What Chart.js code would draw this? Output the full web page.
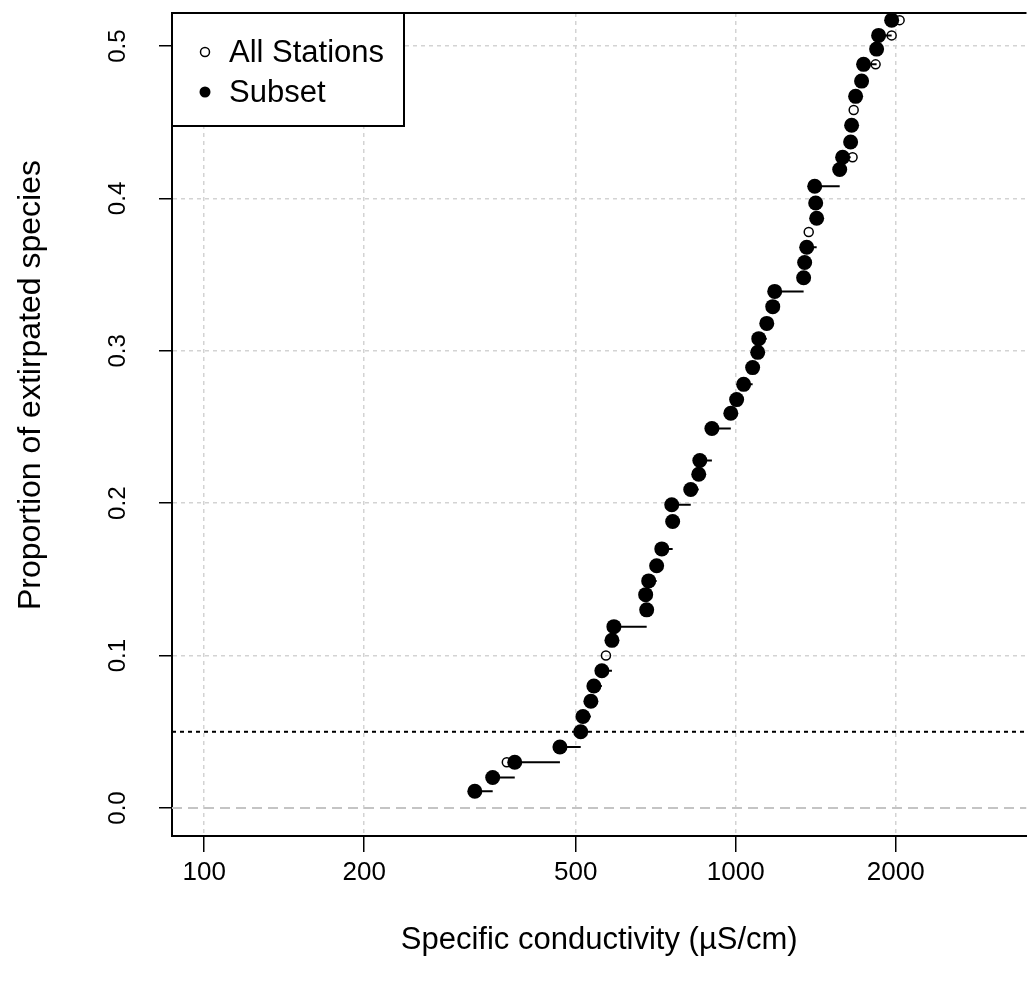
<!DOCTYPE html>
<html>
<head>
<meta charset="utf-8">
<script src="https://cdn.jsdelivr.net/npm/chart.js@4.4.1/dist/chart.umd.min.js"></script>
<style>
html, body { margin: 0; padding: 0; background: #fff; overflow: hidden; }
#wrap { width: 1027px; height: 989px; overflow: hidden; }
</style>
</head>
<body>
<div id="wrap"><canvas id="myChart" width="1034" height="989"></canvas></div>
<script>
// subset of stations (filled dots)
const subsetX = [323, 349, 384, 467, 511, 516, 534, 541, 560, 585, 590, 680, 677, 686, 710, 726, 761, 758, 823, 852, 856, 902, 979, 1004, 1035, 1076, 1100, 1105, 1144, 1174, 1184, 1342, 1348, 1360, 1420, 1414, 1408, 1569, 1589, 1645, 1652, 1681, 1725, 1740, 1841, 1857, 1965];
const subsetY = [0.011, 0.020, 0.030, 0.040, 0.050, 0.060, 0.070, 0.080, 0.090, 0.110, 0.119, 0.130, 0.140, 0.149, 0.159, 0.170, 0.188, 0.199, 0.209, 0.219, 0.228, 0.249, 0.259, 0.268, 0.278, 0.289, 0.299, 0.308, 0.318, 0.329, 0.339, 0.348, 0.358, 0.368, 0.387, 0.397, 0.408, 0.419, 0.427, 0.437, 0.448, 0.467, 0.477, 0.488, 0.498, 0.507, 0.517];

// all stations (open circles)
const allX = [323, 349, 371, 467, 511, 516, 534, 541, 560, 570, 585, 590, 680, 677, 686, 710, 726, 761, 758, 823, 852, 856, 902, 979, 1004, 1035, 1076, 1100, 1105, 1144, 1174, 1184, 1342, 1348, 1360, 1372, 1420, 1414, 1408, 1569, 1659, 1645, 1652, 1667, 1681, 1725, 1833, 1841, 1965, 2034];
const allY = [0.011, 0.020, 0.030, 0.040, 0.050, 0.060, 0.070, 0.080, 0.090, 0.100, 0.110, 0.119, 0.130, 0.140, 0.149, 0.159, 0.170, 0.188, 0.199, 0.209, 0.219, 0.228, 0.249, 0.259, 0.268, 0.278, 0.289, 0.299, 0.308, 0.318, 0.329, 0.339, 0.348, 0.358, 0.368, 0.378, 0.387, 0.397, 0.408, 0.419, 0.427, 0.437, 0.448, 0.458, 0.467, 0.477, 0.488, 0.498, 0.507, 0.517];

const xTicks = [100, 200, 500, 1000, 2000];
const yTicks = [0, 0.1, 0.2, 0.3, 0.4, 0.5];
const threshold = 0.05;
const xRange = [87, 3524];
const yRange = [-0.0184, 0.5217];

const legendLabels = ['All Stations', 'Subset'];
const yTitle = 'Proportion of extirpated species';

// horizontal step segments: each point to the next one's x
let steps = [];
for (let i = 0; i < subsetX.length - 1; i++) {
    steps.push({ x: subsetX[i], y: subsetY[i] });
    steps.push({ x: subsetX[i + 1], y: subsetY[i] });
    steps.push({ x: subsetX[i + 1], y: null });
}

const FONT = 'Liberation Sans, Arial, sans-serif';

const framePlugin = {
    id: 'frame',
    afterDraw(chart) {
        const { ctx, chartArea } = chart;
        const yScale = chart.scales.y;
        ctx.save();
        // top border
        ctx.strokeStyle = '#000';
        ctx.lineWidth = 2;
        ctx.beginPath();
        ctx.moveTo(chartArea.left, chartArea.top);
        ctx.lineTo(chartArea.right, chartArea.top);
        ctx.stroke();

        // rotated y tick labels
        ctx.fillStyle = '#000';
        ctx.font = '24px ' + FONT;
        ctx.textAlign = 'center';
        ctx.textBaseline = 'middle';
        yTicks.forEach(v => {
            const py = yScale.getPixelForValue(v);
            ctx.save();
            ctx.translate(chartArea.left - 54, py);
            ctx.rotate(-Math.PI / 2);
            ctx.fillText(v.toFixed(1), 0, 0);
            ctx.restore();
        });

        // y axis title
        ctx.save();
        ctx.font = '32px ' + FONT;
        ctx.translate(chartArea.left - 141, 385);
        ctx.rotate(-Math.PI / 2);
        ctx.fillText(yTitle, 0, 0);
        ctx.restore();

        // legend box
        const lx = chartArea.left, ly = chartArea.top;
        ctx.fillStyle = '#fff';
        ctx.fillRect(lx, ly, 232, 113);
        ctx.strokeStyle = '#000';
        ctx.lineWidth = 2;
        ctx.strokeRect(lx, ly, 232, 113);

        ctx.lineWidth = 1.5;
        ctx.beginPath();
        ctx.arc(lx + 33, ly + 39, 4.5, 0, Math.PI * 2);
        ctx.stroke();
        ctx.fillStyle = '#000';
        ctx.beginPath();
        ctx.arc(lx + 33, ly + 79, 5.5, 0, Math.PI * 2);
        ctx.fill();

        ctx.font = '31px ' + FONT;
        ctx.textAlign = 'left';
        ctx.fillText(legendLabels[0], lx + 57, ly + 40);
        ctx.fillText(legendLabels[1], lx + 57, ly + 80);
        ctx.restore();
    }
};

const graph = new Chart(document.getElementById('myChart'), {
    type: 'scatter',
    data: {
        datasets: [
            {
                label: legendLabels[0],
                data: allX.map((x, i) => ({ x: x, y: allY[i] })),
                pointRadius: 4.5,
                pointBorderWidth: 1.5,
                pointBackgroundColor: 'rgba(0,0,0,0)',
                pointBorderColor: '#000',
                clip: false
            },
            {
                label: legendLabels[1],
                data: subsetX.map((x, i) => ({ x: x, y: subsetY[i] })),
                pointRadius: 7.5,
                pointBorderWidth: 0,
                pointBackgroundColor: '#000',
                pointBorderColor: '#000',
                clip: false
            },
            {
                type: 'line',
                label: 'steps',
                data: steps,
                borderColor: '#000',
                borderWidth: 2,
                pointRadius: 0,
                spanGaps: false
            },
            {
                type: 'line',
                label: 'threshold',
                data: [{ x: xRange[0], y: threshold }, { x: xRange[1], y: threshold }],
                borderColor: '#000',
                borderWidth: 2,
                borderDash: [4, 4],
                pointRadius: 0
            },
            {
                type: 'line',
                label: 'zero',
                data: [{ x: xRange[0], y: 0 }, { x: xRange[1], y: 0 }],
                borderColor: '#c4c4c4',
                borderWidth: 2,
                borderDash: [10, 6],
                pointRadius: 0
            }
        ]
    },
    options: {
        responsive: false,
        animation: false,
        devicePixelRatio: 1,
        layout: { padding: { left: 9, top: 13, right: 0, bottom: 28 } },
        plugins: {
            legend: { display: false },
            tooltip: { enabled: false }
        },
        scales: {
            x: {
                type: 'logarithmic',
                min: xRange[0],
                max: xRange[1],
                afterBuildTicks: s => { s.ticks = xTicks.map(v => ({ value: v })); },
                afterFit: s => { s.height = 125; },
                ticks: {
                    callback: v => String(v),
                    color: '#000',
                    font: { size: 26, family: FONT },
                    padding: 5,
                    maxRotation: 0,
                    autoSkip: false
                },
                grid: {
                    color: '#d3d3d3',
                    lineWidth: 1.5,
                    tickLength: 16,
                    tickColor: '#000',
                    tickWidth: 1.5
                },
                border: { display: true, color: '#000', width: 2, dash: [4, 4] },
                title: {
                    display: true,
                    text: 'Specific conductivity (µS/cm)',
                    color: '#000',
                    font: { size: 31, family: FONT },
                    padding: { top: 4, bottom: 2 }
                }
            },
            y: {
                min: yRange[0],
                max: yRange[1],
                afterBuildTicks: s => { s.ticks = yTicks.map(v => ({ value: v })); },
                afterFit: s => { s.width = 163; },
                ticks: { display: false },
                grid: {
                    color: c => (c.tick && c.tick.value === 0) ? 'rgba(0,0,0,0)' : '#d3d3d3',
                    lineWidth: 1.5,
                    tickLength: 13,
                    tickColor: '#000',
                    tickWidth: 1.5
                },
                border: { display: true, color: '#000', width: 2, dash: [4, 4] },
                title: { display: false }
            }
        }
    },
    plugins: [framePlugin]
});
</script>
</body>
</html>
